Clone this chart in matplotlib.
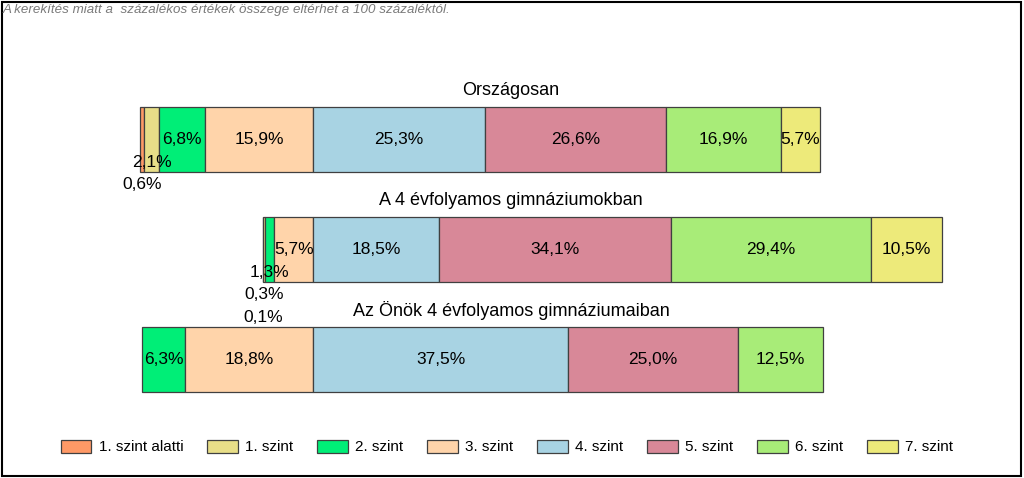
import matplotlib
matplotlib.use("Agg")
import matplotlib.pyplot as plt
from matplotlib.patches import Patch, Rectangle

plt.rcParams['font.family'] = ['Liberation Sans', 'DejaVu Sans']

groups = ["Országosan",
          "A 4 évfolyamos gimnáziumokban",
          "Az Önök 4 évfolyamos gimnáziumaiban"]
levels = ["1. szint alatti", "1. szint", "2. szint", "3. szint",
          "4. szint", "5. szint", "6. szint", "7. szint"]
orszagos = [0.6, 2.1, 6.8, 15.9, 25.3, 26.6, 16.9, 5.7]
gimn4 = [0.1, 0.3, 1.3, 5.7, 18.5, 34.1, 29.4, 10.5]
onok4 = [0.0, 0.0, 6.3, 18.8, 37.5, 25.0, 12.5, 0.0]
colors = ["#FF9966", "#E8DE88", "#00EE77", "#FFD4AA",
          "#A8D3E3", "#D88898", "#A8EC78", "#EDEA7A"]
note = "A kerekítés miatt a  százalékos értékek összege eltérhet a 100 százaléktól."

data = [orszagos, gimn4, onok4]
W, H = 1024, 478
fig = plt.figure(figsize=(W / 100, H / 100), dpi=100)
ax = fig.add_axes([0, 0, 1, 1])
px_per_pct = 6.8
zero_px = 313
ax.set_xlim(-zero_px / px_per_pct, (W - zero_px) / px_per_pct)
row_px = 110
first_px = 139.5
ax.set_ylim((H - first_px) / row_px, -first_px / row_px)
ax.axis('off')

bar_h = 65 / row_px
step = 22.5 / row_px
for i, vals in enumerate(data):
    starts = [0.0] * 8
    pos = -sum(vals[:4])
    for k in range(4):
        starts[k] = pos
        pos += vals[k]
    pos = 0.0
    for k in range(4, 8):
        starts[k] = pos
        pos += vals[k]
    offsets = [0] * 8
    n = 1
    for k in sorted([k for k in range(4) if 0 < vals[k] < 3], reverse=True):
        offsets[k] = n
        n += 1
    for k in range(8):
        v = vals[k]
        if v <= 0:
            continue
        ax.barh(i, v, left=starts[k], height=bar_h, color=colors[k],
                edgecolor="#404040", linewidth=0.9)
        lbl = f"{v:.1f}%".replace('.', ',')
        ax.text(starts[k] + v / 2, i + offsets[k] * step, lbl,
                ha='center', va='center', fontsize=12.5, color='black')
    ax.text(W / 2 / px_per_pct - zero_px / px_per_pct - 0.15, i - 49.5 / row_px,
            groups[i], ha='center', va='center', fontsize=13, color='black')

handles = [Patch(facecolor=c, edgecolor="#404040", linewidth=0.9) for c in colors]
fig.legend(handles, levels, loc='center', bbox_to_anchor=(507 / W, 1 - 447 / H),
           ncol=8, frameon=False, fontsize=11, handlelength=2.0,
           handleheight=0.95, handletextpad=0.5, columnspacing=1.55)

fig.text(3 / W, 1 - 10 / H, note, ha='left', va='center', fontsize=9.6,
         style='italic', color='#7a7a7a')

fig.patches.append(Rectangle((1.5 / W, 1 - 476 / H), 1019.5 / W, 474.5 / H,
                             transform=fig.transFigure, fill=False,
                             edgecolor='black', linewidth=1.5))

fig.savefig("out.png", dpi=100)
